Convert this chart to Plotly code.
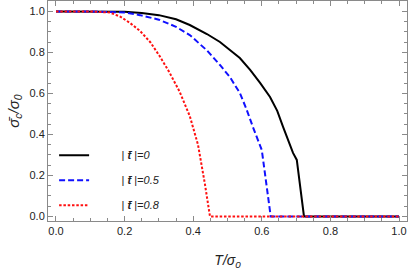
import plotly.graph_objects as go

# data
T_black = [0.0, 0.1, 0.2, 0.25, 0.3, 0.35, 0.39, 0.44, 0.478, 0.507, 0.536, 0.566, 0.595, 0.624, 0.645, 0.662, 0.678, 0.691, 0.702, 0.723, 0.8, 0.9, 1.0]
v_black = [1.0, 1.0, 0.998, 0.993, 0.982, 0.962, 0.934, 0.89, 0.851, 0.812, 0.773, 0.715, 0.652, 0.583, 0.515, 0.437, 0.365, 0.31, 0.276, 0.0, 0.0, 0.0, 0.0]

T_blue = [0.0, 0.1, 0.2, 0.245, 0.3, 0.35, 0.39, 0.44, 0.478, 0.507, 0.536, 0.555, 0.574, 0.588, 0.60, 0.626, 0.7, 0.8, 0.9, 1.0]
v_blue = [1.0, 1.0, 0.995, 0.982, 0.96, 0.925, 0.885, 0.81, 0.739, 0.68, 0.602, 0.525, 0.437, 0.38, 0.324, 0.0, 0.0, 0.0, 0.0, 0.0]

T_red = [0.0, 0.1, 0.157, 0.187, 0.215, 0.245, 0.275, 0.303, 0.33, 0.36, 0.39, 0.414, 0.434, 0.449, 0.5, 0.6, 0.7, 0.8, 0.9, 1.0]
v_red = [1.0, 1.0, 0.995, 0.975, 0.945, 0.905, 0.85, 0.78, 0.705, 0.61, 0.49, 0.35, 0.16, 0.0, 0.0, 0.0, 0.0, 0.0, 0.0, 0.0]

pad = "&nbsp;" * 9
labels = [pad + "| <i><b>t̄</b></i> |<i>=0</i>", pad + "| <i><b>t̄</b></i> |<i>=0.5</i>", pad + "| <i><b>t̄</b></i> |<i>=0.8</i>"]

FONT = "Liberation Sans, Arial, sans-serif"

fig = go.Figure()
fig.add_trace(go.Scatter(x=T_black, y=v_black, mode="lines", name=labels[0], legendgroup="a",
                         line=dict(color="black", width=2)))
fig.add_trace(go.Scatter(x=T_blue, y=v_blue, mode="lines", name=labels[1], legendgroup="b",
                         line=dict(color="#1010ff", width=2, dash="6px,3px")))
fig.add_trace(go.Scatter(x=T_red, y=v_red, mode="lines", name=labels[2], legendgroup="c",
                         line=dict(color="#ff1010", width=2, dash="2.5px,1.8px")))

axis_common = dict(showline=True, linecolor="#8a8a8a", linewidth=1, mirror="ticks",
                   ticks="inside", ticklen=5, tickcolor="#8a8a8a", tickwidth=1,
                   showgrid=False, zeroline=False, ticklabeloverflow="allow",
                   tickfont=dict(family=FONT, size=11, color="#222"),
                   minor=dict(ticks="inside", ticklen=3, dtick=0.05, tickcolor="#8a8a8a", showgrid=False))

fig.update_xaxes(range=[-0.0233, 1.0233], dtick=0.2, tick0=0, tickformat=".1f",
                 title=dict(text="<i>T/σ<sub>0</sub></i>", font=dict(family=FONT, size=14, color="#222"), standoff=19),
                 **axis_common)
fig.update_yaxes(range=[-0.022, 1.051], dtick=0.2, tick0=0, tickformat=".1f",
                 title=dict(text="<i>σ̄<sub>c</sub>/σ<sub>0</sub></i>", font=dict(family=FONT, size=15, color="#222"), standoff=6),
                 **axis_common)

fig.update_layout(width=409, height=270, margin=dict(l=48, r=2, t=1, b=49),
                  plot_bgcolor="white", paper_bgcolor="white",
                  showlegend=True,
                  legend=dict(x=0.017, y=0.365, xanchor="left", yanchor="top", bgcolor="rgba(0,0,0,0)",
                              font=dict(family=FONT, size=11, color="#222"),
                              tracegroupgap=6))

fig.write_html("out.html", config={"displayModeBar": False},
               post_script="document.body.style.margin='0';")
